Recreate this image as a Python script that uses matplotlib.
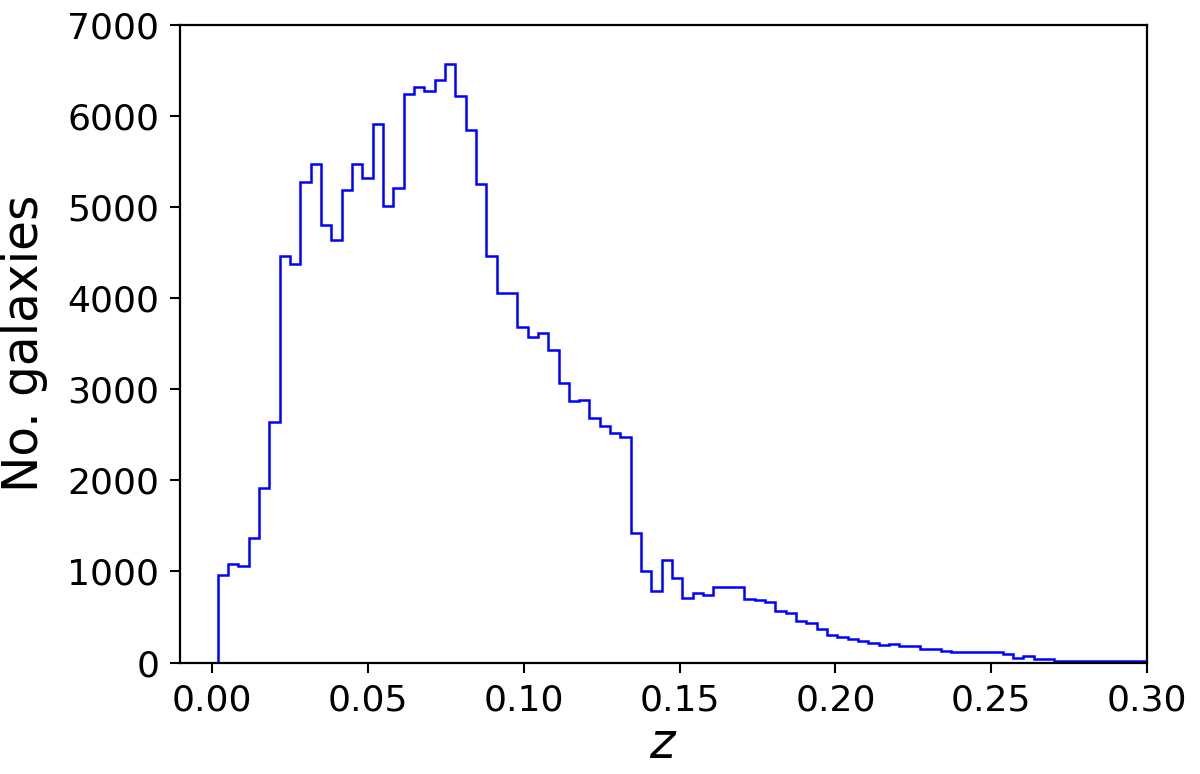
import matplotlib

matplotlib.use("Agg")
import matplotlib.pyplot as plt
import numpy as np

# Histograma de redshift: primer borde y ancho de bin.
FIRST_EDGE = 0.0019
BIN_WIDTH = 0.003312

# Cuentas por bin (de izquierda a derecha).
COUNTS = [
    965, 1079, 1056, 1365, 1912, 2635, 4461, 4379, 5275, 5471,
    4797, 4643, 5189, 5471, 5321, 5908, 5016, 5212, 6236, 6322,
    6268, 6391, 6568, 6217, 5844, 5253, 4465, 4051, 4051, 3678,
    3573, 3619, 3433, 3066, 2868, 2887, 2686, 2598, 2517, 2473,
    1427, 1010, 790, 1120, 925, 706, 761, 746, 827, 827,
    827, 699, 681, 662, 571, 545, 461, 436, 370, 304,
    278, 260, 241, 216, 198, 200, 181, 181, 152, 152,
    126, 112, 112, 112, 112, 112, 90, 50, 71, 35,
    35, 17, 17, 17, 17, 17, 17, 17, 17, 17,
    15, 12,
]

X_TICKS = [0.00, 0.05, 0.10, 0.15, 0.20, 0.25, 0.30]
Y_TICKS = [0, 1000, 2000, 3000, 4000, 5000, 6000, 7000]

counts = np.array(COUNTS, dtype=float)
edges = FIRST_EDGE + BIN_WIDTH * np.arange(len(counts) + 1)
centers = 0.5 * (edges[:-1] + edges[1:])

fig = plt.figure(figsize=(12, 7.74), dpi=100)
ax = fig.add_axes([0.15, 0.144, 0.806, 0.824])
ax.hist(centers, bins=edges, weights=counts, histtype="step", color="blue", linewidth=1.8)

ax.set_xlim(-0.0102, 0.30)
ax.set_ylim(0, 7000)
ax.set_xticks(X_TICKS)
ax.set_xticklabels([f"{t:.2f}" for t in X_TICKS])
ax.set_yticks(Y_TICKS)
ax.tick_params(labelsize=26, length=7, width=1.5, pad=8)
for spine in ax.spines.values():
    spine.set_linewidth(1.6)

ax.set_xlabel("$z$", fontsize=35, labelpad=2)
ax.set_ylabel("No. galaxies", fontsize=35, labelpad=14)

fig.savefig("out.png", dpi=100)
plt.close(fig)
